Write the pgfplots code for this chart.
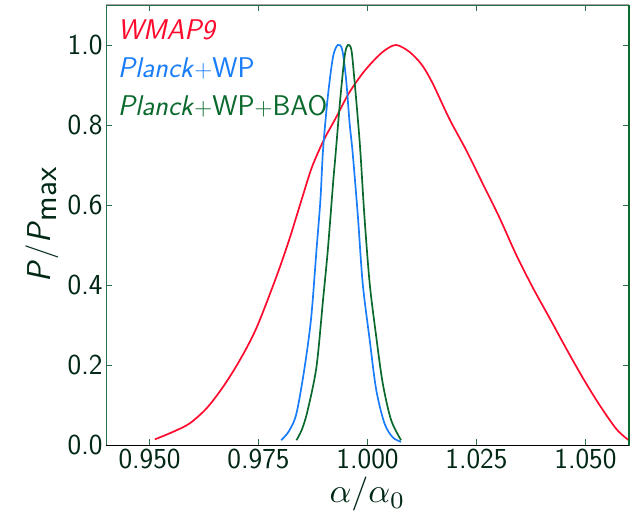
\documentclass[border=0pt]{standalone}
\usepackage{pgfplots}
\pgfplotsset{compat=1.18}
\definecolor{cred}{RGB}{255,10,45}
\definecolor{cblue}{RGB}{25,125,250}
\definecolor{cgreen}{RGB}{10,105,45}
\definecolor{cframe}{RGB}{40,110,70}
\definecolor{ctext}{RGB}{0,40,20}
\begin{document}
\begin{tikzpicture}
\useasboundingbox (-106pt,-74pt) rectangle (526pt,445pt);
\begin{axis}[
  scale only axis,
  width=523pt, height=440pt,
  xmin=0.94, xmax=1.06, ymin=0, ymax=1.1,
  xtick={0.95,0.975,1.0,1.025,1.05},
  ytick={0,0.2,0.4,0.6,0.8,1.0},
  tick align=inside,
  major tick length=6pt,
  tick style={cframe, line width=0.8pt},
  axis line style={draw=cframe, line width=0.6pt},
  every tick label/.append style={font=\fontsize{29}{33}\sffamily, text=ctext},
  /pgf/number format/assume math mode=true,
  xticklabel style={/pgf/number format/.cd, fixed, fixed zerofill, precision=3},
  yticklabel style={/pgf/number format/.cd, fixed, fixed zerofill, precision=1},
  xlabel={$\alpha/\alpha_0$},
  ylabel={\textsf{\textit{P}}\kern1pt/\kern1pt\textsf{\textit{P}}$_{\textsf{max}}$},
  xlabel style={font=\fontsize{10}{12}\selectfont, scale=3.4, text=ctext, at={(axis description cs:0.5,0)}, anchor=north, yshift=-6pt},
  ylabel style={font=\fontsize{33}{36}\selectfont, text=ctext, at={(axis description cs:0,0.5)}, anchor=south, yshift=44pt},
  clip=false,
]
\addplot[cred, line width=1.7pt, smooth] coordinates {
(0.9512,0.014) (0.9554,0.033) (0.9592,0.054) (0.9631,0.092) (0.9669,0.146)
(0.9707,0.212) (0.9745,0.292) (0.9790,0.418) (0.9820,0.512) (0.9851,0.621)
(0.9873,0.696) (0.9900,0.763) (0.9927,0.817) (0.9957,0.879) (0.9988,0.928)
(1.0015,0.962) (1.0040,0.987) (1.0066,1.000) (1.0096,0.983) (1.0125,0.950)
(1.0150,0.903) (1.0188,0.815) (1.0227,0.736) (1.0265,0.652) (1.0303,0.568)
(1.0341,0.476) (1.0380,0.392) (1.0418,0.317) (1.0456,0.241) (1.0495,0.166)
(1.0533,0.099) (1.0571,0.040) (1.0598,0.013)
};
\addplot[cblue, line width=1.7pt, smooth] coordinates {
(0.9802,0.012) (0.9820,0.035) (0.9837,0.079) (0.9856,0.196) (0.9871,0.321)
(0.9883,0.488) (0.9892,0.613) (0.9898,0.738) (0.9909,0.871) (0.9921,0.971)
(0.9932,1.000) (0.9942,0.988) (0.9951,0.913) (0.9959,0.804) (0.9966,0.730)
(0.9978,0.571) (0.9989,0.404) (1.0005,0.263) (1.0020,0.138) (1.0039,0.054)
(1.0058,0.019) (1.0077,0.008)
};
\addplot[cgreen, line width=1.7pt, smooth] coordinates {
(0.9837,0.012) (0.9850,0.040) (0.9863,0.088) (0.9883,0.196) (0.9898,0.363)
(0.9909,0.488) (0.9921,0.654) (0.9927,0.730) (0.9938,0.871) (0.9948,0.975)
(0.9955,1.000) (0.9963,0.988) (0.9970,0.913) (0.9978,0.813) (0.9984,0.728)
(0.9993,0.571) (1.0005,0.404) (1.0020,0.271) (1.0035,0.154) (1.0054,0.063)
(1.0077,0.012)
};
\draw[black, line width=0.8pt] (rel axis cs:0,0) -- (rel axis cs:1,0);
\draw[gray!70, line width=1pt] (rel axis cs:0,1) -- (rel axis cs:1,1);
\draw[cgreen, line width=1.8pt] (rel axis cs:1,0) -- (rel axis cs:1,1);
\node[anchor=west, text=cred, font=\fontsize{28.5}{31}\sffamily] at (rel axis cs:0.016,0.943) {\textit{WMAP9}};
\node[anchor=west, text=cblue, font=\fontsize{28.5}{31}\sffamily] at (rel axis cs:0.016,0.857) {\textit{Planck}$+$WP};
\node[anchor=west, text=cgreen, font=\fontsize{28.5}{31}\sffamily] at (rel axis cs:0.016,0.771) {\textit{Planck}$+$WP$+$BAO};
\end{axis}
\end{tikzpicture}
\end{document}
